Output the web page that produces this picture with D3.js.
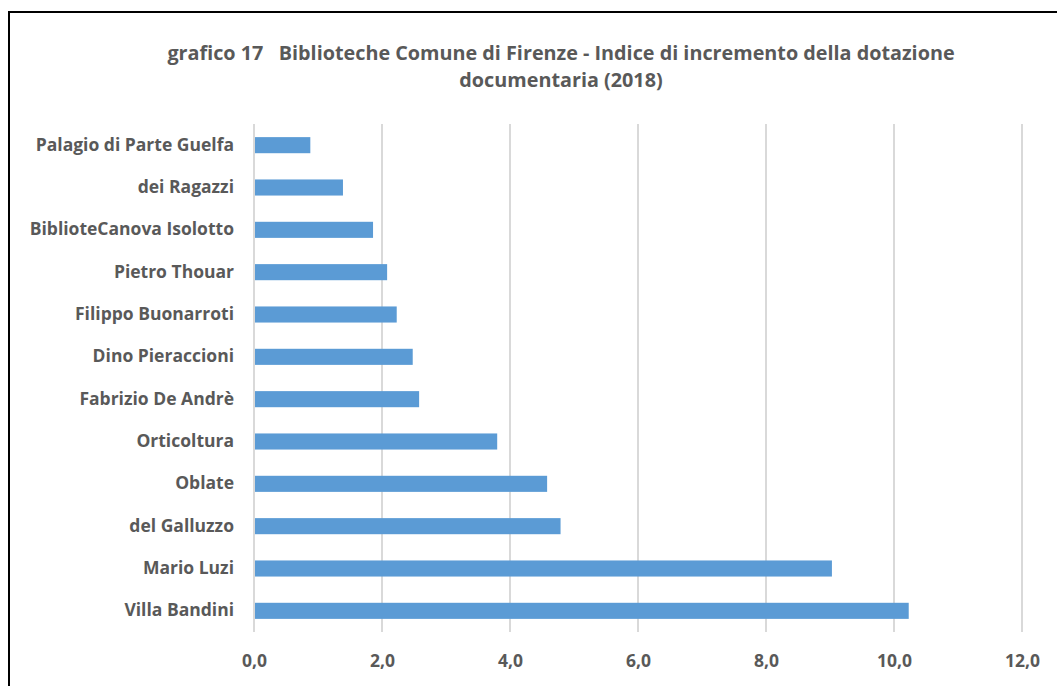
<!DOCTYPE html>
<html>
<head>
<meta charset="utf-8">
<script src="https://cdn.jsdelivr.net/npm/d3@7"></script>
<style>
  body { margin: 0; background: #fff; }
  svg { display: block; font-family: "Open Sans", Lato, sans-serif; }
</style>
</head>
<body>
<div id="graph"></div>
<script>
const w = 1057;
const h = 686;

const libraries = [
  "Palagio di Parte Guelfa",
  "dei Ragazzi",
  "BiblioteCanova Isolotto",
  "Pietro Thouar",
  "Filippo Buonarroti",
  "Dino Pieraccioni",
  "Fabrizio De Andrè",
  "Orticoltura",
  "Oblate",
  "del Galluzzo",
  "Mario Luzi",
  "Villa Bandini",
];
const values = [0.88, 1.39, 1.86, 2.08, 2.23, 2.48, 2.58, 3.8, 4.58, 4.79, 9.03, 10.23];
const ticks = [0, 2, 4, 6, 8, 10, 12];
const titleLines = [
  "grafico 17   Biblioteche Comune di Firenze - Indice di incremento della dotazione",
  "documentaria (2018)",
];

const plot = { left: 254, right: 1022, top: 124, bottom: 632 };
const grey = "#595959";
const font = "'Open Sans', Lato, sans-serif";

const svg = d3.select("#graph").append("svg").attr("width", w).attr("height", h);

// chart frame
svg.append("rect")
  .attr("x", 9).attr("y", 12)
  .attr("width", 1070).attr("height", 700)
  .attr("fill", "none")
  .attr("stroke", "#000")
  .attr("stroke-width", 2);

svg.append("text")
  .attr("text-anchor", "middle")
  .attr("font-size", 19.8)
  .attr("font-weight", "bold")
  .attr("fill", grey)
  .style("white-space", "pre")
  .selectAll("tspan")
  .data(titleLines)
  .join("tspan")
  .attr("x", 561)
  .attr("y", (d, i) => 60 + i * 27)
  .text((d) => d);

const x = d3.scaleLinear().domain([0, 12]).range([plot.left, plot.right]);
const y = d3.scaleBand().domain(libraries).range([plot.top, plot.bottom]).paddingInner(0.62).paddingOuter(0.31);

// gridlines
svg.append("g")
  .selectAll("line")
  .data(ticks)
  .join("line")
  .attr("x1", (d) => x(d)).attr("x2", (d) => x(d))
  .attr("y1", plot.top).attr("y2", plot.bottom)
  .attr("stroke", "#d9d9d9")
  .attr("stroke-width", 2);

svg.append("g")
  .selectAll("rect")
  .data(values)
  .join("rect")
  .attr("x", x(0) + 1)
  .attr("y", (d, i) => y(libraries[i]))
  .attr("width", (d) => x(d) - x(0) - 1)
  .attr("height", y.bandwidth())
  .attr("fill", "#5b9bd5");

// category labels
const yAxis = svg.append("g")
  .attr("transform", `translate(${plot.left},0)`)
  .call(d3.axisLeft(y).tickSize(0).tickPadding(20));
yAxis.select(".domain").remove();
yAxis.selectAll("text")
  .attr("font-family", font)
  .attr("font-size", 17.5)
  .attr("font-weight", "bold")
  .attr("fill", grey);

// value axis
const xAxis = svg.append("g")
  .attr("transform", `translate(0,${plot.bottom})`)
  .call(d3.axisBottom(x).tickValues(ticks).tickSize(0).tickPadding(23).tickFormat((d) => d3.format(".1f")(d).replace(".", ",")));
xAxis.select(".domain").remove();
xAxis.selectAll("text")
  .attr("font-family", font)
  .attr("font-size", 17.5)
  .attr("font-weight", "bold")
  .attr("fill", grey);
</script>
</body>
</html>
